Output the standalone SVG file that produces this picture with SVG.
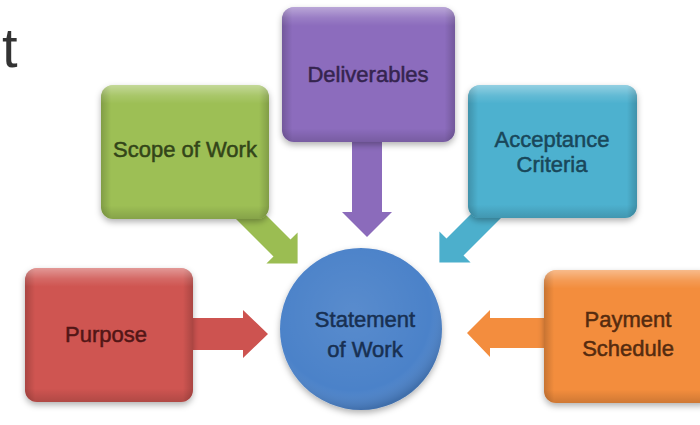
<svg xmlns="http://www.w3.org/2000/svg" width="700" height="425" viewBox="0 0 700 425">
  <defs>
    <style>
      .lbl { font-family: "Liberation Sans", Arial, sans-serif; font-size: 22px; text-anchor: middle; stroke-width: 0.5px; }
      .title { font-family: "Liberation Sans", Arial, sans-serif; font-size: 56px; fill: #333333; }
    </style>
    <filter id="shadow" x="-10%" y="-10%" width="125%" height="130%">
      <feDropShadow dx="0" dy="3" stdDeviation="3" flood-color="#000000" flood-opacity="0.3"/>
    </filter>
    <linearGradient id="sideShade" x1="0" y1="0" x2="1" y2="0">
      <stop offset="0" stop-color="#000" stop-opacity="0.18"/>
      <stop offset="0.06" stop-color="#000" stop-opacity="0"/>
      <stop offset="0.94" stop-color="#000" stop-opacity="0"/>
      <stop offset="1" stop-color="#000" stop-opacity="0.18"/>
    </linearGradient>
    <linearGradient id="topHl" x1="0" y1="0" x2="0" y2="1">
      <stop offset="0" stop-color="#fff" stop-opacity="0.4"/>
      <stop offset="0.08" stop-color="#fff" stop-opacity="0.12"/>
      <stop offset="0.14" stop-color="#fff" stop-opacity="0"/>
      <stop offset="0.9" stop-color="#000" stop-opacity="0"/>
      <stop offset="1" stop-color="#000" stop-opacity="0.15"/>
    </linearGradient>
    <radialGradient id="ballShade" cx="0.45" cy="0.4" r="0.6">
      <stop offset="0" stop-color="#fff" stop-opacity="0.08"/>
      <stop offset="0.8" stop-color="#fff" stop-opacity="0"/>
      <stop offset="1" stop-color="#000" stop-opacity="0.15"/>
    </radialGradient>
  </defs>

  <rect x="0" y="0" width="700" height="425" fill="#ffffff"/>

  <text class="title" x="2" y="67">t</text>

  <g id="connectors">
    <polygon fill="#8b6bbb" points="352,135 382,135 382,212 392,212 367,237 342,212 352,212"/>
    <polygon fill="#9bbd52" points="233.5,182.5 290.5,239.5 297.6,232.4 297.6,263.6 266.4,263.6 273.5,256.5 216.5,199.5"/>
    <polygon fill="#4cafcc" points="503.5,181.5 446.5,238.5 439.4,231.4 439.4,262.6 470.6,262.6 463.5,255.5 520.5,198.5"/>
    <polygon fill="#cd5350" points="185,318 243,318 243,310 268,334 243,358 243,350 185,350"/>
    <polygon fill="#f38d3e" points="555,318 490,318 490,310 467,333 490,357 490,348 555,348"/>
  </g>

  <g id="deliverables">
    <rect x="282" y="7" width="173" height="135" rx="12" fill="#8c6cbd" filter="url(#shadow)"/>
    <rect x="282" y="7" width="173" height="135" rx="12" fill="url(#sideShade)"/>
    <rect x="282" y="7" width="173" height="135" rx="12" fill="url(#topHl)"/>
    <text class="lbl" x="368" y="82" fill="#35244f" stroke="#35244f">Deliverables</text>
  </g>

  <g id="scope">
    <rect x="101" y="85" width="168" height="134" rx="12" fill="#9dbf55" filter="url(#shadow)"/>
    <rect x="101" y="85" width="168" height="134" rx="12" fill="url(#sideShade)"/>
    <rect x="101" y="85" width="168" height="134" rx="12" fill="url(#topHl)"/>
    <text class="lbl" x="185" y="157" fill="#334519" stroke="#334519">Scope of Work</text>
  </g>

  <g id="acceptance">
    <rect x="468" y="85" width="169" height="133" rx="12" fill="#4db1cf" filter="url(#shadow)"/>
    <rect x="468" y="85" width="169" height="133" rx="12" fill="url(#sideShade)"/>
    <rect x="468" y="85" width="169" height="133" rx="12" fill="url(#topHl)"/>
    <text class="lbl" x="552" y="147" fill="#19475a" stroke="#19475a">Acceptance</text>
    <text class="lbl" x="552" y="172" fill="#19475a" stroke="#19475a">Criteria</text>
  </g>

  <g id="purpose">
    <rect x="25" y="268" width="168" height="134" rx="12" fill="#cf5451" filter="url(#shadow)"/>
    <rect x="25" y="268" width="168" height="134" rx="12" fill="url(#sideShade)"/>
    <rect x="25" y="268" width="168" height="134" rx="12" fill="url(#topHl)"/>
    <text class="lbl" x="106" y="342" fill="#521616" stroke="#521616">Purpose</text>
  </g>

  <g id="payment">
    <rect x="544" y="270" width="168" height="133" rx="12" fill="#f38d3e" filter="url(#shadow)"/>
    <rect x="544" y="270" width="168" height="133" rx="12" fill="url(#sideShade)"/>
    <rect x="544" y="270" width="168" height="133" rx="12" fill="url(#topHl)"/>
    <text class="lbl" x="628" y="327" fill="#552b0f" stroke="#552b0f">Payment</text>
    <text class="lbl" x="628" y="356" fill="#552b0f" stroke="#552b0f">Schedule</text>
  </g>

  <g id="statement">
    <circle cx="361" cy="329" r="81" fill="#4c82c9" filter="url(#shadow)"/>
    <circle cx="361" cy="329" r="81" fill="url(#ballShade)"/>
    <text class="lbl" x="365" y="327" fill="#183052" stroke="#183052">Statement</text>
    <text class="lbl" x="365" y="357" fill="#183052" stroke="#183052">of Work</text>
  </g>
</svg>
